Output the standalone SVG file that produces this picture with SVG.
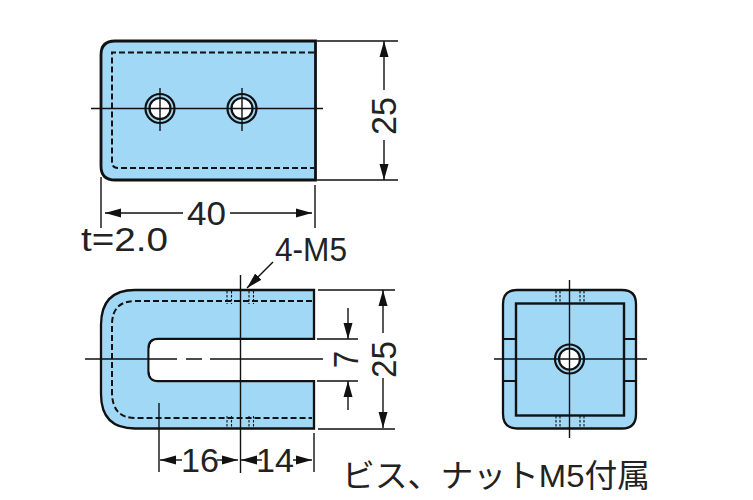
<svg xmlns="http://www.w3.org/2000/svg" width="753" height="500" viewBox="0 0 753 500">
<style>
.body{fill:#a0d8f6;stroke:#111;stroke-width:2.8}
.body2{fill:#a0d8f6;stroke:#111;stroke-width:2.3}
.thin{fill:none;stroke:#111;stroke-width:1.4}
.line{fill:none;stroke:#111;stroke-width:1.8}
.dash{fill:none;stroke:#111;stroke-width:2;stroke-dasharray:6 3}
.dot{fill:none;stroke:#111;stroke-width:1.100;stroke-dasharray:2.500 1.500}
.ring{fill:none;stroke:#111;stroke-width:2.200}
.hole{fill:#fff}
text{font-family:"Liberation Sans",Arial,"Noto Sans CJK JP",sans-serif;fill:#222;font-size:33px}
</style>
<defs>
<marker id="a" markerUnits="userSpaceOnUse" markerWidth="17" markerHeight="10" refX="16" refY="4.500" orient="auto-start-reverse" viewBox="0 0 17 9"><path d="M0 0L16 4.500L0 9Z" fill="#111"/></marker>
</defs>
<g id="top-view">
<path class="body" d="M315.500 41H115Q101 41 101 55V166Q101 180 115 180H315.500Z"/>
<path class="dash" d="M314 52.500H112V162Q112 168 118 168H314"/>
<g id="top-hole-1"><circle class="hole" cx="160" cy="108.500" r="11"/><circle class="ring" cx="160" cy="108.500" r="14.500"/><circle class="ring" cx="160" cy="108.500" r="10.500"/></g>
<g id="top-hole-2"><circle class="hole" cx="242" cy="108.500" r="11"/><circle class="ring" cx="242" cy="108.500" r="14.500"/><circle class="ring" cx="242" cy="108.500" r="10.500"/></g>
<path class="thin" d="M91 108.500H323M160 88V131M242 88V131"/>
</g>
<g id="bottom-view">
<path class="body2" d="M314 290H135Q101 290 101 325V394Q101 428.500 135 428.500H314V381H158Q148.500 381 148.500 371V349Q148.500 339 158 339H314Z"/>
<path class="hole" d="M316 340H158Q149.700 340 149.700 349V371Q149.700 380 158 380H316Z"/>
<path class="dash" d="M312 301H135Q112 301 112 325V392Q112 418 135 418H312"/>
<path class="dot" d="M227 291V304M231.500 291V304M249 291V304M253.500 291V304M227 416V428M231.500 416V428M249 416V428M253.500 416V428"/>
<path class="thin" d="M85 359H177M186 359H202M210 359H323M240.500 275V473"/>
</g>
<g id="side-view">
<path class="body2" d="M517 290H622Q636 290 636 304V414Q636 428.500 622 428.500H517Q503 428.500 503 414V304Q503 290 517 290Z"/>
<rect x="516" y="303.500" width="108" height="112" fill="none" stroke="#111" stroke-width="2.400"/>
<path class="line" d="M503 339H516M503 381H516M624 339H636M624 381H636"/>
<path class="dot" d="M556 291V303M560 291V303M580 291V303M584 291V303M556 416V428M560 416V428M580 416V428M584 416V428"/>
<circle class="hole" cx="569.500" cy="359" r="10.500"/><circle class="ring" cx="569.500" cy="359" r="14.500"/><circle class="ring" cx="569.500" cy="359" r="10.500"/>
<path class="thin" d="M494 359H647M569.500 280V438"/>
</g>
<g id="connectors">
<path class="thin" d="M317 41H398M317 180H398M101 177V228M315 185V228M318 290H395M318 429H395M317 339H358M317 381H358M159 403V472M314 433V472"/>
<path class="thin" marker-start="url(#a)" d="M384 41V90"/>
<path class="thin" marker-start="url(#a)" d="M384 180V140"/>
<path class="thin" marker-start="url(#a)" d="M383 290V333"/>
<path class="thin" marker-start="url(#a)" d="M383 428V378"/>
<path class="thin" marker-start="url(#a)" d="M105 213H183"/>
<path class="thin" marker-start="url(#a)" d="M312 213H230"/>
<path class="thin" marker-start="url(#a)" d="M348 339V308"/>
<path class="thin" marker-start="url(#a)" d="M348 381V410"/>
<path class="thin" marker-start="url(#a)" d="M160 460H182"/>
<path class="thin" marker-start="url(#a)" d="M238 460H217"/>
<path class="thin" marker-start="url(#a)" d="M241 460H262"/>
<path class="thin" marker-start="url(#a)" d="M312 460H293"/>
<path class="thin" marker-start="url(#a)" d="M247 288L273 262"/>
</g>
<g id="labels">
<text x="187" y="225" textLength="39" lengthAdjust="spacingAndGlyphs">40</text>
<text x="81" y="251" textLength="87" lengthAdjust="spacingAndGlyphs">t=2.0</text>
<text x="275" y="261" textLength="72" lengthAdjust="spacingAndGlyphs">4-M5</text>
<text x="181" y="472" textLength="38" lengthAdjust="spacingAndGlyphs">16</text>
<text x="256" y="472" textLength="38" lengthAdjust="spacingAndGlyphs">14</text>
<text transform="translate(396 135) rotate(-90)" textLength="38" lengthAdjust="spacingAndGlyphs" font-size="35" style="font-size:35px">25</text>
<text transform="translate(396 378) rotate(-90)" textLength="37" lengthAdjust="spacingAndGlyphs" style="font-size:35px">25</text>
<text transform="translate(358 368) rotate(-90)" textLength="17" lengthAdjust="spacingAndGlyphs" style="font-size:35px">7</text>
<text x="342" y="487" textLength="308" lengthAdjust="spacingAndGlyphs" style="font-size:32px">ビス、ナットM5付属</text>
</g>
</svg>
